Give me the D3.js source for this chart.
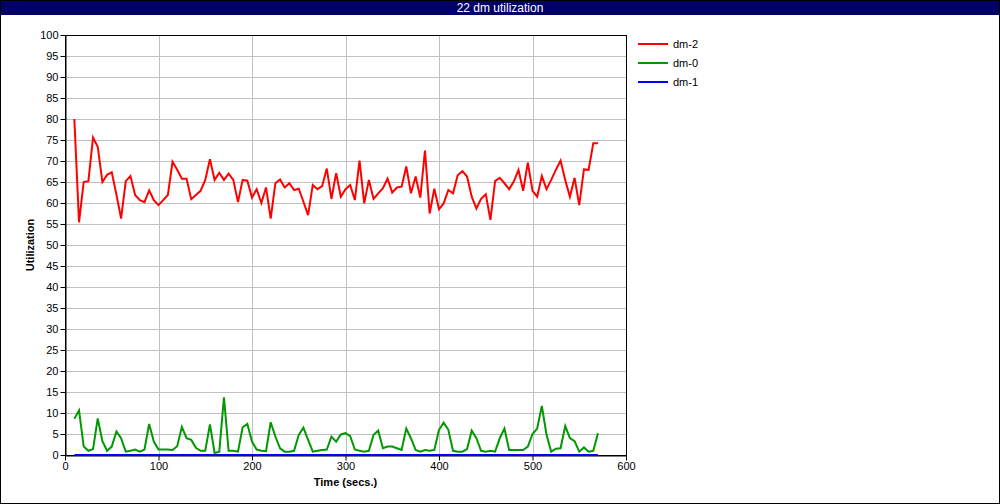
<!DOCTYPE html>
<html><head><meta charset="utf-8">
<script src="https://cdn.jsdelivr.net/npm/d3@7"></script>
<style>body{margin:0;background:#fff}svg{display:block}text{font-family:"Liberation Sans",Arial,sans-serif}</style>
</head><body><svg id="c" width="1000" height="504"></svg>
<script>
const title = "22 dm utilization";
const seriesNames = ["dm-2","dm-0","dm-1"];
const seriesColors = ["#ff0000","#009900","#0000ff"];
const times = d3.range(10, 571, 5);
const dm2 = [80,55.4,65,65.2,75.6,73.4,65,66.7,67.3,62,56.3,65.2,66.4,61.9,60.7,60.2,63,60.7,59.5,60.7,61.9,69.8,67.9,65.8,65.8,60.9,61.9,62.9,65.5,70.4,65.5,67.2,65.5,67,65.5,60.2,65.5,65.3,61.3,63.3,60,63.7,56.3,64.7,65.6,63.7,64.7,63.1,63.4,60.3,57.1,64.3,63.3,64,68.2,61,67.1,61.5,63.3,64.3,60.7,70.1,59.9,65.5,61,62.3,63.5,65.8,62.5,63.7,63.9,68.7,62.3,66.3,61.3,72.5,57.5,63.4,58.5,59.9,63.1,62.3,66.6,67.6,66.3,61.5,58.7,61,62.1,56,65.2,66,64.7,63.3,65.1,67.9,62.9,69.6,62.9,61.5,66.4,63.3,65.5,67.9,70.1,65.5,61.5,66,59.5,68,67.9,74.2,74.2];
const dm0 = [8.6,10.6,2,1,1.4,8.7,3.3,1,2,5.6,4,0.8,1,1.3,0.8,1.3,7.4,3.2,1.3,1.3,1.3,1.2,2.1,6.7,4,3.6,1.7,1,1,7.3,0.5,0.8,13.7,1,1,0.8,6.6,7.4,3.2,1.3,1,0.9,7.8,4.4,1.6,0.8,0.8,1,4.8,6.5,3.6,0.8,1,1.2,1.3,4.4,3.2,4.9,5.2,4.5,1.3,1,0.8,1,4.8,5.8,1.6,2,2,1.6,1.2,6.3,4,1.2,0.8,1.2,1,1.2,6,7.7,6,1,0.8,0.8,1.4,5.8,4,1,0.8,1,0.8,4,6.3,1.2,1.2,1.2,1.2,2,5,6.3,11.7,4.8,0.8,1.5,1.6,6.9,4,3.3,0.8,1.8,0.8,1,5.2];
const dm1 = times.map(() => 0);
const xTicks = [0,100,200,300,400,500,600];
const yTicks = d3.range(0, 101, 5);

const svg = d3.select("#c");
const W = 1000, H = 504;
const m = {l:65, r:626, t:35, b:455};
const x = d3.scaleLinear().domain([0,600]).range([m.l, m.r]);
const y = d3.scaleLinear().domain([0,100]).range([m.b, m.t]);

svg.append("rect").attr("x",0.5).attr("y",0.5).attr("width",W-1).attr("height",H-1).attr("fill","#fff").attr("stroke","#000");
svg.append("rect").attr("x",1).attr("y",1).attr("width",W-2).attr("height",14).attr("fill","#000066");
svg.append("text").attr("x",W/2).attr("y",12).attr("text-anchor","middle").attr("fill","#fff").attr("font-size",12).text(title);

// grid
const g = svg.append("g");
g.selectAll(".gy").data(yTicks).join("line").attr("x1",m.l).attr("x2",m.r).attr("y1",d=>Math.round(y(d))+0.5).attr("y2",d=>Math.round(y(d))+0.5).attr("stroke","#c0c0c0");
g.selectAll(".gx").data(xTicks).join("line").attr("y1",m.t).attr("y2",m.b).attr("x1",d=>Math.round(x(d))+0.5).attr("x2",d=>Math.round(x(d))+0.5).attr("stroke","#c0c0c0");

// axes
const ya = svg.append("g").attr("transform",`translate(${m.l+0.5},0)`).call(d3.axisLeft(y).tickValues(yTicks).tickSize(5).tickPadding(2).tickSizeOuter(0));
const xa = svg.append("g").attr("transform",`translate(0,${m.b+0.5})`).call(d3.axisBottom(x).tickValues(xTicks).tickSize(5).tickPadding(2).tickSizeOuter(0));
[ya,xa].forEach(a=>{a.selectAll("text").attr("font-size",11).attr("fill","#000").style("font-family","'Liberation Sans',Arial,sans-serif");a.select(".domain").attr("stroke","#000");a.selectAll(".tick line").attr("stroke","#000");});
svg.append("rect").attr("x",m.l+0.5).attr("y",m.t+0.5).attr("width",m.r-m.l).attr("height",m.b-m.t).attr("fill","none").attr("stroke","#000");

svg.append("text").attr("transform",`translate(34,${(m.t+m.b)/2}) rotate(-90)`).attr("text-anchor","middle").attr("font-size",11).attr("font-weight","bold").text("Utilization");
svg.append("text").attr("x",(m.l+m.r)/2).attr("y",486).attr("text-anchor","middle").attr("font-size",11).attr("font-weight","bold").text("Time (secs.)");

// lines
const line = d3.line().x((d,i)=>x(times[i])).y(d=>y(d));
const data = [dm2, dm0, dm1];
[2,0,1].forEach(()=>{});
svg.append("path").datum(dm1).attr("d",line).attr("fill","none").attr("stroke",seriesColors[2]).attr("stroke-width",2);
svg.append("path").datum(dm0).attr("d",line).attr("fill","none").attr("stroke",seriesColors[1]).attr("stroke-width",2);
svg.append("path").datum(dm2).attr("d",line).attr("fill","none").attr("stroke",seriesColors[0]).attr("stroke-width",2);

// legend
const lg = svg.append("g").selectAll("g").data(seriesNames).join("g").attr("transform",(d,i)=>`translate(638,${44+i*19})`);
lg.append("line").attr("x1",0).attr("x2",30).attr("stroke",(d,i)=>seriesColors[i]).attr("stroke-width",2);
lg.append("text").attr("x",35).attr("y",4).attr("font-size",11).text(d=>d);
</script></body></html>
